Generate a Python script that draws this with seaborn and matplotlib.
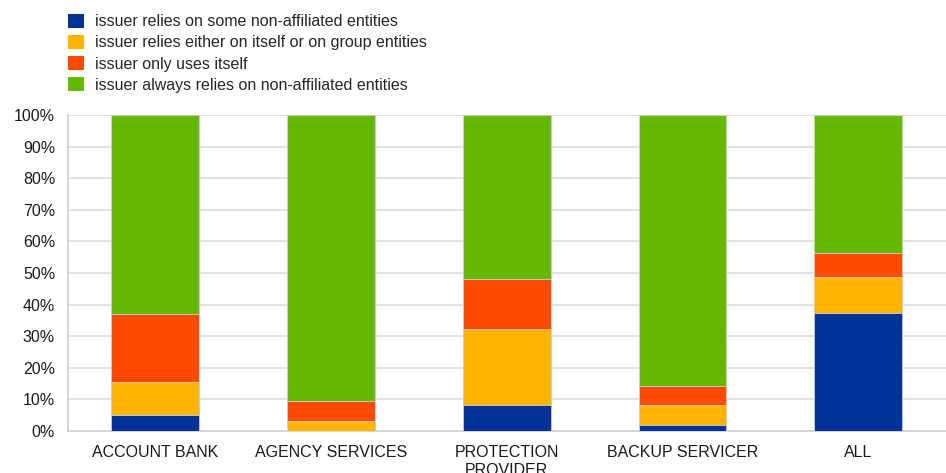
import matplotlib
matplotlib.use("Agg")
import matplotlib.pyplot as plt
import seaborn as sns
import numpy as np
import pandas as pd
from matplotlib.patches import Patch

categories = ["ACCOUNT BANK", "AGENCY SERVICES", "PROTECTION\nPROVIDER", "BACKUP SERVICER", "ALL"]
some_non_affiliated = [5.2, 0.0, 8.2, 1.9, 37.4]
itself_or_group = [10.3, 3.2, 24.1, 6.3, 11.4]
only_itself = [21.6, 6.3, 15.9, 6.0, 7.6]
always_non_affiliated = [62.9, 90.5, 51.8, 85.8, 43.6]

series_names = [
    "issuer relies on some non-affiliated entities",
    "issuer relies either on itself or on group entities",
    "issuer only uses itself",
    "issuer always relies on non-affiliated entities",
]
colors = ["#003299", "#FFB400", "#FF4B00", "#65B800"]

sns.set_theme(style="white")
plt.rcParams["font.family"] = ["Liberation Sans", "DejaVu Sans"]

fig = plt.figure(figsize=(9.46, 4.73), dpi=100)
ax = fig.add_axes([0.0714, 0.0888, 0.9286, 0.668])

data = np.array([some_non_affiliated, itself_or_group, only_itself, always_non_affiliated])
cum = np.cumsum(data, axis=0)

# draw from top of stack downward so lower segments overlay
for i in range(len(series_names) - 1, -1, -1):
    df = pd.DataFrame({"cat": categories, "val": cum[i]})
    sns.barplot(data=df, x="cat", y="val", color=colors[i], width=0.5,
                saturation=1, ax=ax, edgecolor="#d0d0d0", linewidth=0.6, zorder=3)

ax.set_ylim(0, 100)
ax.set_xlim(-0.5, len(categories) - 0.5)
ax.set_yticks(np.arange(0, 101, 10))
ax.set_yticklabels([f"{v}%" for v in range(0, 101, 10)], fontsize=11.5, color="#1a1a1a")
ax.tick_params(axis="x", labelsize=11.5, colors="#1a1a1a", length=0, pad=10)
ax.tick_params(axis="y", length=0, pad=9)
for lab in ax.get_xticklabels():
    lab.set_linespacing(1.25)
ax.set_xlabel("")
ax.set_ylabel("")
ax.yaxis.grid(True, color="#dcdcdc", linewidth=1.2, zorder=0)
ax.set_axisbelow(True)
for s in ["top", "right"]:
    ax.spines[s].set_visible(False)
for s in ["left", "bottom"]:
    ax.spines[s].set_color("#d0d0d0")
    ax.spines[s].set_linewidth(1.2)

handles = [Patch(facecolor=c, edgecolor="none") for c in colors]
fig.legend(handles, series_names, loc="upper left",
           bbox_to_anchor=(0.060, 0.995), frameon=False, fontsize=11.5,
           handlelength=1.0, handleheight=1.0, handletextpad=0.7,
           labelspacing=0.35, borderaxespad=0.3)

fig.savefig("out.png", dpi=100)
